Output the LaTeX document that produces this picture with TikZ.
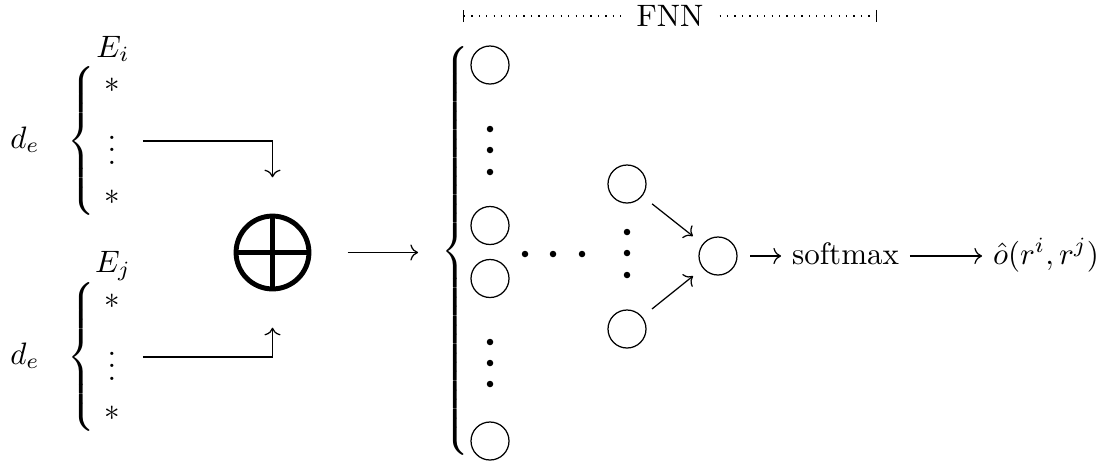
\documentclass[tikz,border=0pt]{standalone}
\usetikzlibrary{arrows.meta}
\newcommand\mybrace[1]{$\left\{\vcenter{\hrule height #1 width 0pt}\right.$}
\begin{document}
\begin{tikzpicture}[x=0.3226pt, y=-0.3226pt,
  neuron/.style={circle, draw, minimum size=12.26pt, inner sep=0pt},
  dotpt/.style={circle, fill, inner sep=0pt, minimum size=2.1pt},
  lbl/.style={inner sep=0pt},
  barend/.tip={Bar[width=4pt]}]
\useasboundingbox (0,0) rectangle (1105,465);
% left input groups
\node[lbl, anchor=west] (bi) at (67,141) {\mybrace{48.4pt}};
\node[lbl, anchor=west] (bj) at (67,357) {\mybrace{48.4pt}};
\node[lbl, anchor=base] (ei) at (113,57) {$E_i$};
\node[lbl, anchor=base] (ej) at (113,272) {$E_j$};
\node[lbl, anchor=base] (di) at (25,148) {$d_e$};
\node[lbl, anchor=base] (dj) at (25,364) {$d_e$};
\node (si1) at (112,85) {$*$};
\node (si2) at (112,197) {$*$};
\node (sj1) at (112,301) {$*$};
\node (sj2) at (112,413) {$*$};
\node (vi) at (112,141) {$\vdots$};
\node (vj) at (112,357) {$\vdots$};
% concatenation
\node[circle, draw, line width=1.6pt, minimum size=23.5pt, inner sep=0pt, outer sep=12.5pt,
  path picture={\draw[line width=1.6pt] (path picture bounding box.north) -- (path picture bounding box.south)
    (path picture bounding box.west) -- (path picture bounding box.east);}] (plus) at (272.5,252.5) {};
\draw[->] ([xshift=5pt]vi.east) -| (plus.north);
\draw[->] ([xshift=5pt]vj.east) -| (plus.south);
% FNN brace
\node[lbl, anchor=west] (fb) at (441,251) {\mybrace{137pt}};
\draw[->, shorten >=7.4pt] (plus.east) -- (plus.east -| fb.west);
% first layer
\node[neuron] (n1) at (490,65) {};
\node[neuron] (n2) at (490,225.5) {};
\node[neuron] (n3) at (490,278.5) {};
\node[neuron] (n4) at (490,441) {};
\foreach \yy [count=\k] in {129,150,172,342,363,384} \node[dotpt] (c\k) at (490,\yy) {};
\foreach \xx [count=\k] in {525,553,582} \node[dotpt] (h\k) at (\xx,254) {};
% second layer
\node[neuron] (m1) at (627,184) {};
\node[neuron] (m2) at (627,329) {};
\foreach \yy [count=\k] in {232,253,275} \node[dotpt] (v\k) at (627,\yy) {};
\node[neuron] (o) at (718,256) {};
\draw[->, shorten <=4pt, shorten >=4pt] (m1) -- (o);
\draw[->, shorten <=4pt, shorten >=4pt] (m2) -- (o);
% output
\node[anchor=base] (sm) at (845.5,264) {softmax};
\node[anchor=base] (outn) at (1046,264) {$\hat{o}(r^i,r^j)$};
\draw[->, shorten <=4pt] (o.east) -- (o.east -| sm.west);
\draw[->] (o.east -| sm.east) -- (o.east -| outn.west);
% FNN header
\node[inner sep=5pt] (fnn) at (670,16) {FNN};
\coordinate (fl) at (463,16);
\coordinate (fr) at (877,16);
\draw[dotted, barend-] (fl) -- (fnn.west);
\draw[dotted, -barend] (fnn.east) -- (fr);
\end{tikzpicture}
\end{document}
